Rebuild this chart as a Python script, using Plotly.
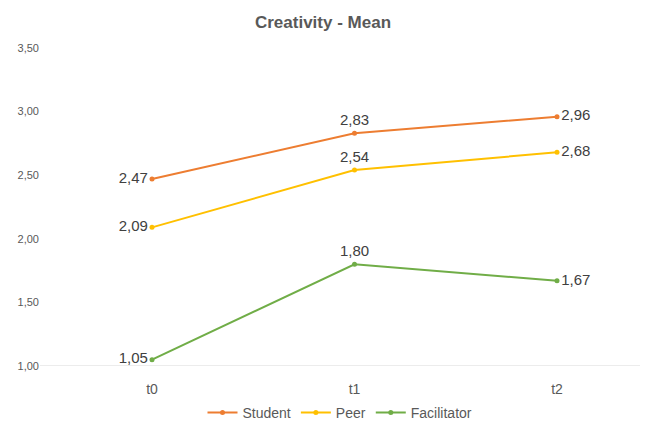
import plotly.graph_objects as go

categories = ["t0", "t1", "t2"]
series_names = ["Student", "Peer", "Facilitator"]
student = [2.47, 2.83, 2.96]
peer = [2.09, 2.54, 2.68]
facilitator = [1.05, 1.80, 1.67]
colors = ["#ED7D31", "#FFC000", "#70AD47"]
y_ticks = [1.0, 1.5, 2.0, 2.5, 3.0, 3.5]

W, H = 646, 424
L, R, T, B = 40, 6, 48, 58

fig = go.Figure()
x_idx = list(range(len(categories)))
for name, vals, col in zip(series_names, [student, peer, facilitator], colors):
    fig.add_trace(go.Scatter(
        x=x_idx, y=vals, name=name, mode="lines+markers+text",
        line=dict(color=col, width=2),
        marker=dict(color=col, size=5),
        text=[f"{v:.2f}".replace(".", ",") for v in vals],
        textposition=["middle left", "top center", "middle right"],
        textfont=dict(family="Liberation Sans, Arial", size=15, color="#404040"),
        cliponaxis=False,
    ))

plot_w = W - L - R
px_per = 202.5
x0 = -(152 - L) / px_per
x1 = x0 + plot_w / px_per

fig.update_layout(
    width=W, height=H,
    margin=dict(l=L, r=R, t=T, b=B, autoexpand=False),
    paper_bgcolor="white", plot_bgcolor="white",
    separators=",.",
    title=dict(text="Creativity - Mean", x=0.5, xanchor="center", y=1 - 22 / H, yanchor="middle",
               font=dict(family="Liberation Sans, Arial", size=17, color="#595959", weight="bold")),
    font=dict(family="Liberation Sans, Arial", color="#595959"),
    xaxis=dict(range=[x0, x1], tickmode="array", tickvals=x_idx, ticktext=categories,
               showgrid=False, zeroline=False, showline=False, ticks="outside", ticklen=10,
               tickcolor="rgba(0,0,0,0)", automargin=False,
               tickfont=dict(size=14, color="#595959")),
    yaxis=dict(range=[1.0, 3.5], tickmode="array", tickvals=y_ticks,
               ticktext=[f"{v:.2f}".replace(".", ",") for v in y_ticks],
               showgrid=False, zeroline=False, showline=False, ticks="", automargin=False,
               tickfont=dict(size=11, color="#595959")),
    legend=dict(orientation="h", x=0.5, xanchor="center", y=-(413 - 366) / (H - T - B), yanchor="middle",
                font=dict(size=14, color="#595959"), itemwidth=30, tracegroupgap=0),
    showlegend=True,
)
fig.add_shape(type="line", xref="paper", yref="y", x0=0, x1=1, y0=1.0, y1=1.0,
              line=dict(color="#D9D9D9", width=1), layer="below")

fig.write_html("out.html")
